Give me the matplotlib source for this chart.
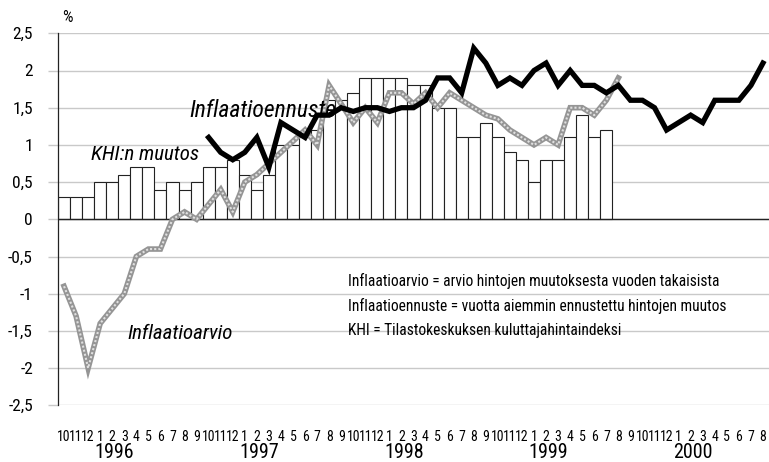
import matplotlib
matplotlib.use("Agg")
import matplotlib.pyplot as plt
import numpy as np
from matplotlib import font_manager

# ---- data ----
month_labels = ["10", "11", "12"] + [str(m) for m in range(1, 13)] * 4 + [str(m) for m in range(1, 9)]
years = ["1996", "1997", "1998", "1999", "2000"]
year_start_idx = [3, 15, 27, 39, 51]

khi = [0.3, 0.3, 0.3, 0.5, 0.5, 0.6, 0.7, 0.7, 0.4, 0.5, 0.4, 0.5, 0.7, 0.7, 0.8,
       0.6, 0.4, 0.6, 1.0, 1.0, 1.1, 1.2, 1.6, 1.6, 1.7, 1.9, 1.9,
       1.9, 1.9, 1.8, 1.8, 1.5, 1.5, 1.1, 1.1, 1.3, 1.1, 0.9, 0.8,
       0.5, 0.8, 0.8, 1.1, 1.4, 1.1, 1.2]

arvio = [-0.9, -1.3, -2.0, -1.4, -1.2, -1.0, -0.5, -0.4, -0.4, 0.0, 0.1, 0.0,
         0.2, 0.4, 0.1, 0.5, 0.6, 0.75, 0.9, 1.05, 1.2, 1.0, 1.8, 1.55,
         1.3, 1.5, 1.3, 1.7, 1.7, 1.55, 1.7, 1.5, 1.7, 1.6, 1.5, 1.4,
         1.35, 1.2, 1.1, 1.0, 1.1, 1.0, 1.5, 1.5, 1.4, 1.6, 1.9]

ennuste_start = 12
ennuste = [1.1, 0.9, 0.8, 0.9, 1.1, 0.7, 1.3, 1.2, 1.1, 1.4, 1.4, 1.5,
           1.45, 1.5, 1.5, 1.45, 1.5, 1.5, 1.6, 1.9, 1.9, 1.7, 2.3, 2.1,
           1.8, 1.9, 1.8, 2.0, 2.1, 1.8, 2.0, 1.8, 1.8, 1.7, 1.8, 1.6,
           1.6, 1.5, 1.2, 1.3, 1.4, 1.3, 1.6, 1.6, 1.6, 1.8, 2.1]

yticks = [2.5, 2, 1.5, 1, 0.5, 0, -0.5, -1, -1.5, -2, -2.5]
ytick_labels = ["2,5", "2", "1,5", "1", "0,5", "0", "-0,5", "-1", "-1,5", "-2", "-2,5"]

notes = ["Inflaatioarvio = arvio hintojen muutoksesta vuoden takaisista",
         "Inflaatioennuste = vuotta aiemmin ennustettu hintojen muutos",
         "KHI = Tilastokeskuksen kuluttajahintaindeksi"]

# ---- fonts ----
names = {f.name for f in font_manager.fontManager.ttflist}
fam = [f for f in ["Liberation Sans Narrow", "Roboto Condensed", "DejaVu Sans"] if f in names]
plt.rcParams['font.family'] = fam

fig = plt.figure(figsize=(7.69, 4.62), dpi=100)
ax = fig.add_axes([58 / 769, 1 - 405.3 / 462, 1 - 58 / 769, (405.3 - 33.3) / 462])

x_khi = np.arange(len(khi))
x_arvio = np.arange(len(arvio))
x_enn = np.arange(ennuste_start, ennuste_start + len(ennuste))

# grid
for v in yticks:
    ax.axhline(v, color="#c9c9c9", lw=1.0, zorder=0)

ax.bar(x_khi, khi, width=1.0, color="white", edgecolor="#222222", linewidth=0.8, zorder=2)
ax.axhline(0, color="#222222", lw=1.0, zorder=3)

# gray textured line
ax.plot(x_arvio, arvio, color="#959595", lw=4.0, zorder=4, solid_joinstyle="miter")
ax.plot(x_arvio, arvio, color="#e0e0e0", lw=1.5, zorder=5, linestyle=(0, (1, 1)))

ax.plot(x_enn, ennuste, color="black", lw=3.8, zorder=6, solid_joinstyle="miter")

ax.set_xlim(-0.5, 58.5)
ax.set_ylim(-2.5, 2.5)

ax.set_yticks(yticks)
ax.set_yticklabels(ytick_labels, fontsize=12.5)
ax.tick_params(axis="y", length=7, color="#c9c9c9", width=1.0, pad=11)

ax.set_xticks(np.arange(len(month_labels)))
ax.set_xticklabels(month_labels, fontsize=10)
ax.tick_params(axis="x", length=0, pad=18)

for s in ["top", "right", "bottom"]:
    ax.spines[s].set_visible(False)
ax.spines["left"].set_color("#222222")
ax.spines["left"].set_linewidth(0.9)

trans = ax.get_xaxis_transform()
for yr, idx in zip(years, year_start_idx):
    ax.text(idx - 0.45, -0.128, yr, transform=trans, ha="left", va="center", fontsize=14.5)

fig.text(62 / 769, 1 - 17 / 462, "%", ha="left", va="center", fontsize=12)

ax.text(10.4, 1.46, "Inflaatioennuste", style="italic", fontsize=17, ha="left", va="center", zorder=7)
ax.text(2.2, 0.87, "KHI:n muutos", style="italic", fontsize=15, ha="left", va="center", zorder=7)
ax.text(5.3, -1.53, "Inflaatioarvio", style="italic", fontsize=15, ha="left", va="center", zorder=7)

for k, t in enumerate(notes):
    ax.text(23.6, -0.83 - k * 0.33, t, fontsize=11.2, ha="left", va="center", zorder=7)

fig.savefig("out.png", dpi=100, facecolor="white")
